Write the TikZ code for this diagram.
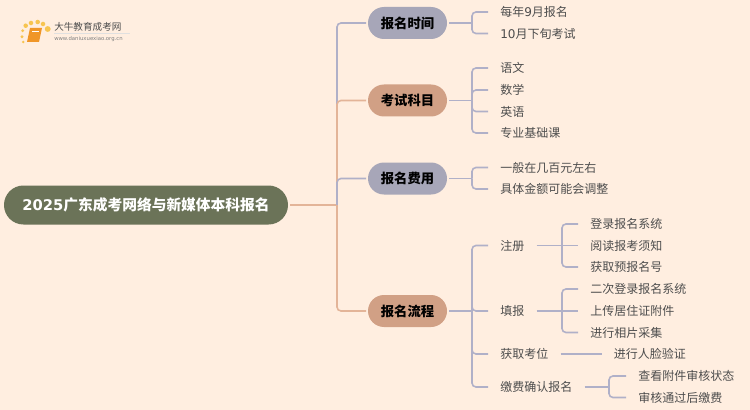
\documentclass[tikz,border=0pt]{standalone}
\usepackage{fontspec}
\usepackage{tikz}
\setmainfont{Noto Sans CJK SC}
\newfontfamily\latinfont{DejaVu Sans}
\newcommand{\dv}[1]{{\latinfont #1}}
\definecolor{paper}{RGB}{255,238,224}
\definecolor{rootfill}{RGB}{107,115,88}
\definecolor{greyfill}{RGB}{167,166,184}
\definecolor{salmonfill}{RGB}{209,160,133}
\definecolor{greyline}{RGB}{176,176,200}
\definecolor{salmonline}{RGB}{227,180,152}
\definecolor{leaftext}{RGB}{77,77,77}
\definecolor{logogold}{RGB}{247,196,80}
\definecolor{logobook}{RGB}{240,150,40}
\tikzset{
  rootpill/.style={draw=none,fill=rootfill,text=white,font=\fontsize{11.05}{14}\selectfont\bfseries,rounded corners=14.6pt,minimum width=213pt,minimum height=29.25pt,inner sep=0pt,outer sep=1.5pt},
  greypill/.style={fill=greyfill,text=black,font=\fontsize{10}{12}\selectfont\bfseries,rounded corners=12pt,minimum width=59.25pt,minimum height=24pt,inner sep=0pt,outer sep=1.5pt},
  salmonpill/.style={greypill,fill=salmonfill},
  leaf/.style={anchor=west,text=leaftext,font=\fontsize{9}{11}\selectfont,inner xsep=9pt,inner ysep=0pt},
  greylink/.style={draw=greyline,line width=1.2pt,rounded corners=3pt},
  salmonlink/.style={draw=salmonline,line width=1.2pt,rounded corners=3pt},
  logodot/.style={circle,fill=logogold,inner sep=0pt,minimum size=3.4pt},
}
\begin{document}
\begin{tikzpicture}[x=0.75pt,y=0.75pt,yscale=-1,xscale=1]
\useasboundingbox (0,0) rectangle (750,410);
\fill [paper] (0,0) rectangle (750,410);

%Logo
\node [logodot] (dota) at (25.7,25.7) {};
\node [logodot] (dotb) at (31,23) {};
\node [logodot] (dotc) at (37.7,22) {};
\node [logodot] (dotd) at (43,24) {};
\node [logodot,minimum size=4.4pt] (dote) at (47.7,29) {};
\node [logodot,minimum size=2.4pt] (dotf) at (22.7,30.7) {};
\node [logodot,minimum size=2.4pt] (dotg) at (22,36.7) {};
\node [logodot,minimum size=2pt] (doth) at (23.3,42) {};
\fill [logobook] (30,28) -- (42,28) -- (39,42) -- (27,42) -- cycle;
\draw [white,line width=0.5pt] (32,31) -- (39,31) ;
\draw [color=black!12,line width=0.6pt] (54,33.5) -- (130,33.5) ;
\node [anchor=west,inner sep=0pt,text=black!70,font=\fontsize{7.2}{9}\selectfont] (logoname) at (54,26.5) {大牛教育成考网};
\node [anchor=west,inner sep=0pt,text=black!50,font=\latinfont\fontsize{4}{5}\selectfont] (logourl) at (54,39) {www.daniuxuexiao.org.cn};

%Root and main branches
\node [rootpill] (root) at (146,205) {\dv{\textbf{2025}}广东成考网络与新媒体本科报名};
\node [greypill] (timepill) at (407.5,23) {报名时间};
\node [salmonpill] (subjectpill) at (407.5,100.5) {考试科目};
\node [greypill] (feepill) at (407.5,178.5) {报名费用};
\node [salmonpill] (flowpill) at (407.5,311) {报名流程};

\coordinate (hub) at (337,205);
\draw [salmonlink] (root.east) -- (hub) ;
\draw [greylink] (hub) |- (timepill.west) ;
\draw [salmonlink] (hub) |- (subjectpill.west) ;
\draw [greylink] (hub) |- (feepill.west) ;
\draw [salmonlink] (hub) |- (flowpill.west) ;

%Time
\node [leaf] (timea) at (488,12) {每年\dv{9}月报名};
\node [leaf] (timeb) at (488,33.5) {\dv{10}月下旬考试};
\coordinate (timehub) at (472,23);
\draw [greylink] (timepill.east) -- (timehub) ;
\draw [greylink] (timehub) |- (timea.west) ;
\draw [greylink] (timehub) |- (timeb.west) ;

%Subjects
\node [leaf] (subjecta) at (488,68) {语文};
\node [leaf] (subjectb) at (488,90) {数学};
\node [leaf] (subjectc) at (488,111.5) {英语};
\node [leaf] (subjectd) at (488,133) {专业基础课};
\coordinate (subjecthub) at (472,100.5);
\draw [greylink] (subjectpill.east) -- (subjecthub) ;
\draw [greylink] (subjecthub) |- (subjecta.west) ;
\draw [greylink] (subjecthub) |- (subjectb.west) ;
\draw [greylink] (subjecthub) |- (subjectc.west) ;
\draw [greylink] (subjecthub) |- (subjectd.west) ;

%Fees
\node [leaf] (feea) at (488,167.5) {一般在几百元左右};
\node [leaf] (feeb) at (488,189) {具体金额可能会调整};
\coordinate (feehub) at (472,178.5);
\draw [greylink] (feepill.east) -- (feehub) ;
\draw [greylink] (feehub) |- (feea.west) ;
\draw [greylink] (feehub) |- (feeb.west) ;

%Flow
\node [leaf] (register) at (488,245.5) {注册};
\node [leaf] (fill) at (488,311) {填报};
\node [leaf] (seat) at (488,354) {获取考位};
\node [leaf] (pay) at (488,387) {缴费确认报名};
\coordinate (flowhub) at (472,311);
\draw [greylink] (flowpill.east) -- (flowhub) ;
\draw [greylink] (flowhub) |- (register.west) ;
\draw [greylink] (flowhub) |- (fill.west) ;
\draw [greylink] (flowhub) |- (seat.west) ;
\draw [greylink] (flowhub) |- (pay.west) ;

%Register
\node [leaf] (registera) at (578,224) {登录报名系统};
\node [leaf] (registerb) at (578,245.5) {阅读报考须知};
\node [leaf] (registerc) at (578,267) {获取预报名号};
\coordinate (registerhub) at (562,245.5);
\draw [greylink] (register.east) -- (registerhub) ;
\draw [greylink] (registerhub) |- (registera.west) ;
\draw [greylink] (registerhub) -- (registerb.west) ;
\draw [greylink] (registerhub) |- (registerc.west) ;

%Fill
\node [leaf] (filla) at (578,289) {二次登录报名系统};
\node [leaf] (fillb) at (578,311) {上传居住证附件};
\node [leaf] (fillc) at (578,332.5) {进行相片采集};
\coordinate (fillhub) at (562,311);
\draw [greylink] (fill.east) -- (fillhub) ;
\draw [greylink] (fillhub) |- (filla.west) ;
\draw [greylink] (fillhub) -- (fillb.west) ;
\draw [greylink] (fillhub) |- (fillc.west) ;

%Seat
\node [leaf] (seata) at (601.5,354) {进行人脸验证};
\draw [greylink] (seat.east) -- (seata.west) ;

%Pay
\node [leaf] (paya) at (626,376) {查看附件审核状态};
\node [leaf] (payb) at (626,397.5) {审核通过后缴费};
\coordinate (payhub) at (609,387);
\draw [greylink] (pay.east) -- (payhub) ;
\draw [greylink] (payhub) |- (paya.west) ;
\draw [greylink] (payhub) |- (payb.west) ;

\end{tikzpicture}
\end{document}
